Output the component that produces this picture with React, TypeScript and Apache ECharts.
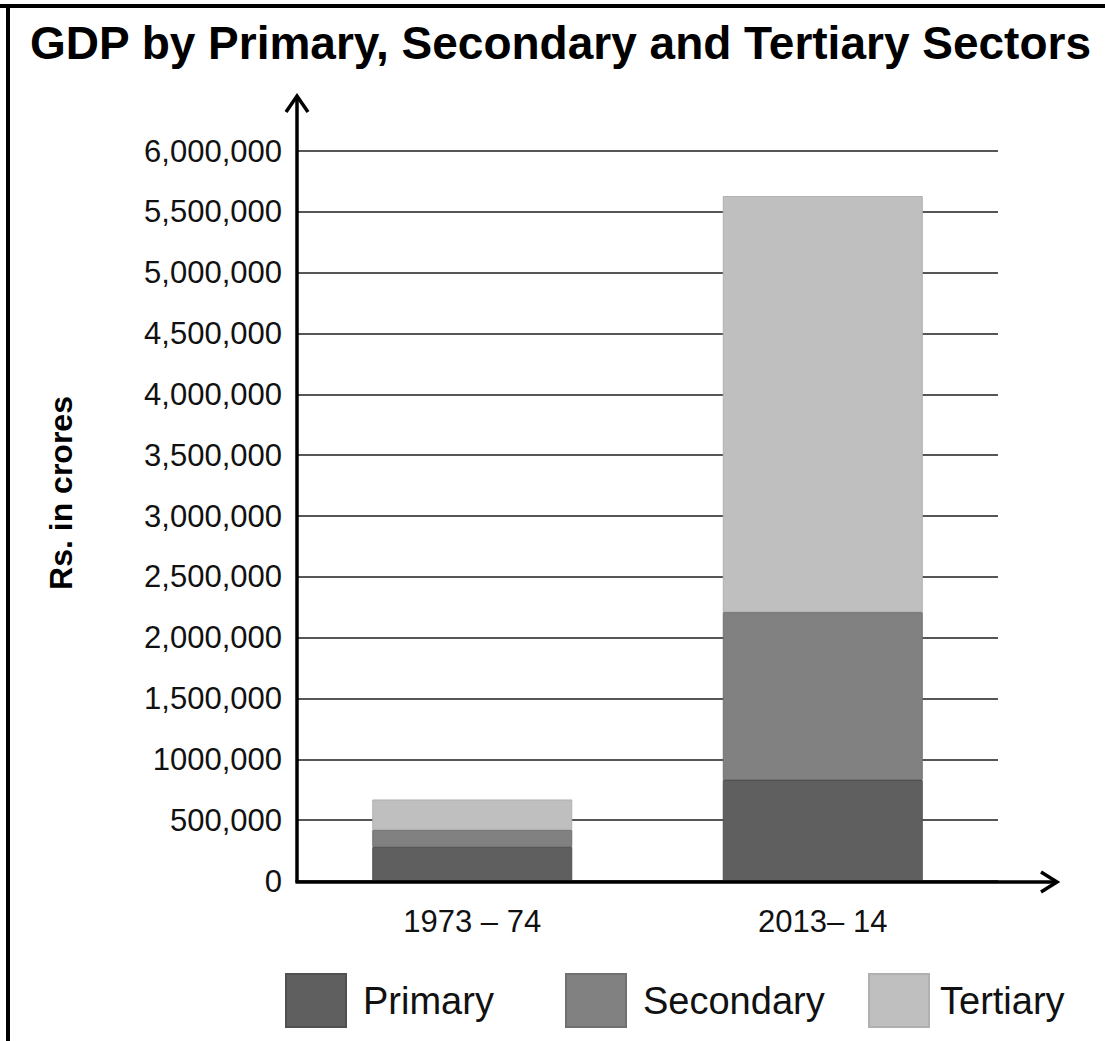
import React, { useEffect, useRef } from "react";
import * as echarts from "echarts";

const categories = ["1973 – 74", "2013– 14"];
const seriesNames = ["Primary", "Secondary", "Tertiary"];
const primaryValues = [280000, 830000];
const secondaryValues = [140000, 1380000];
const tertiaryValues = [250000, 3420000];
const yTickValues = [0, 500000, 1000000, 1500000, 2000000, 2500000, 3000000, 3500000, 4000000, 4500000, 5000000, 5500000, 6000000];
const yTickLabels = ["0", "500,000", "1000,000", "1,500,000", "2,000,000", "2,500,000", "3,000,000", "3,500,000", "4,000,000", "4,500,000", "5,000,000", "5,500,000", "6,000,000"];
const titleText = "GDP by Primary, Secondary and Tertiary Sectors";
const yAxisTitle = "Rs. in crores";

const W = 1105;
const H = 1041;
const FONT = "'Liberation Sans', Arial, Helvetica, sans-serif";
const GRID = { left: 297, top: 151, right: 107, bottom: 160 };
const COLORS = ["#5f5f5f", "#818181", "#bfbfbf"];
const BORDERS = ["#505050", "#707070", "#b0b0b0"];
const LEGEND_LEFT = [280, 560, 863];
const LEGEND_TEXT_PAD = [12, 12, 6];

export default function App() {
  const ref = useRef<HTMLDivElement>(null);
  useEffect(() => {
    if (!ref.current) return;
    const chart = echarts.init(ref.current, undefined, { renderer: "svg" });
    const axisX = GRID.left;
    const axisY = H - GRID.bottom;
    const values = [primaryValues, secondaryValues, tertiaryValues];
    const option: any = {
      animation: false,
      backgroundColor: "#ffffff",
      title: {
        text: titleText,
        left: 25,
        top: 15,
        textStyle: { fontFamily: FONT, fontSize: 46, fontWeight: "bold", color: "#000" },
      },
      legend: seriesNames.map((n, i) => ({
        data: [n],
        left: LEGEND_LEFT[i],
        top: 968,
        itemWidth: 60,
        itemHeight: 53,
        icon: "rect",
        selectedMode: false,
        textStyle: { fontFamily: FONT, fontSize: 38, color: "#111", padding: [0, 0, 0, LEGEND_TEXT_PAD[i]] },
      })),
      grid: { left: GRID.left, top: GRID.top, right: GRID.right, bottom: GRID.bottom, containLabel: false },
      xAxis: {
        type: "category",
        data: categories,
        axisLine: { show: false },
        axisTick: { show: false },
        axisLabel: { fontFamily: FONT, fontSize: 31, color: "#111", margin: 25 },
      },
      yAxis: {
        type: "value",
        min: 0,
        max: 6000000,
        interval: 500000,
        axisLine: { show: false },
        axisTick: { show: false },
        splitLine: { lineStyle: { color: "#1e1e1e", width: 1.5 } },
        axisLabel: {
          fontFamily: FONT,
          fontSize: 31,
          color: "#111",
          margin: 15,
          formatter: (v: number) => {
            const idx = yTickValues.indexOf(v);
            return idx >= 0 ? yTickLabels[idx] : "";
          },
        },
      },
      series: seriesNames.map((n, i) => ({
        name: n,
        type: "bar",
        stack: "total",
        barWidth: 200,
        data: values[i],
        itemStyle: { color: COLORS[i], borderColor: BORDERS[i], borderWidth: 1 },
      })),
      graphic: [
        { type: "line", shape: { x1: 0, y1: 6, x2: W, y2: 6 }, style: { stroke: "#000", lineWidth: 4 }, z: 20 },
        { type: "line", shape: { x1: 8, y1: 4, x2: 8, y2: H }, style: { stroke: "#000", lineWidth: 4 }, z: 20 },
        { type: "line", shape: { x1: axisX, y1: axisY + 1.5, x2: axisX, y2: 96 }, style: { stroke: "#000", lineWidth: 3.5 }, z: 20 },
        { type: "polyline", shape: { points: [[axisX - 11, 112], [axisX, 96], [axisX + 11, 112]] }, style: { stroke: "#000", lineWidth: 3.5, fill: null }, z: 20 },
        { type: "line", shape: { x1: axisX - 1.5, y1: axisY + 1, x2: 1057, y2: axisY + 1 }, style: { stroke: "#000", lineWidth: 3.5 }, z: 20 },
        { type: "polyline", shape: { points: [[1041, axisY - 9], [1057, axisY + 1], [1041, axisY + 11]] }, style: { stroke: "#000", lineWidth: 3.5, fill: null }, z: 20 },
        {
          type: "text",
          x: 61,
          y: 493,
          rotation: Math.PI / 2,
          style: {
            text: yAxisTitle,
            fontFamily: FONT,
            fontSize: 32,
            fontWeight: "bold",
            fill: "#000",
            align: "center",
            verticalAlign: "middle",
          },
          z: 20,
        },
      ],
    };
    chart.setOption(option);
    return () => chart.dispose();
  }, []);
  return <div ref={ref} style={{ position: "fixed", left: 0, top: 0, width: W, height: H, background: "#fff" }} />;
}
